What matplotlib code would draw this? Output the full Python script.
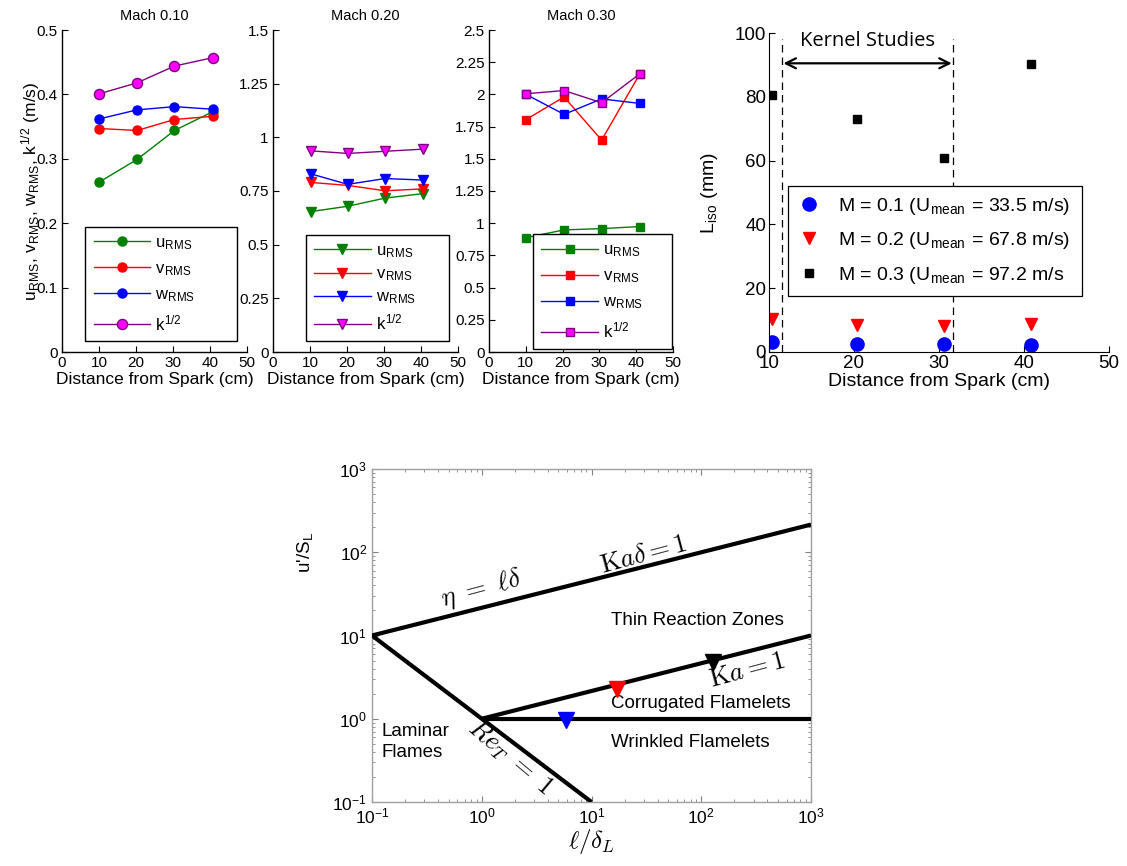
import matplotlib
matplotlib.use('Agg')
import matplotlib.pyplot as plt
from matplotlib.ticker import MultipleLocator

plt.rcParams['font.family'] = ['Liberation Sans', 'DejaVu Sans']
plt.rcParams['mathtext.fontset'] = 'cm'

# ---------------- data ----------------
mach_titles = ['Mach 0.10', 'Mach 0.20', 'Mach 0.30']
series_labels = [r'u$_{\mathregular{RMS}}$', r'v$_{\mathregular{RMS}}$',
                 r'w$_{\mathregular{RMS}}$', r'k$^{\mathregular{1/2}}$']

distance_m1 = [10.1, 20.3, 30.4, 40.7]
m1_u = [0.264, 0.299, 0.344, 0.373]
m1_v = [0.347, 0.344, 0.361, 0.366]
m1_w = [0.362, 0.376, 0.381, 0.377]
m1_k = [0.401, 0.418, 0.444, 0.457]

distance_m2 = [10.2, 20.2, 30.3, 40.6]
m2_u = [0.654, 0.679, 0.717, 0.738]
m2_v = [0.790, 0.776, 0.751, 0.760]
m2_w = [0.830, 0.781, 0.808, 0.801]
m2_k = [0.937, 0.925, 0.935, 0.945]

distance_m3 = [10.05, 20.4, 30.6, 41.0]
m3_u = [0.888, 0.948, 0.958, 0.974]
m3_v = [1.805, 1.980, 1.645, 2.160]
m3_w = [2.000, 1.845, 1.965, 1.930]
m3_k = [2.005, 2.030, 1.935, 2.160]

y_max = [0.5, 1.5, 2.5]
y_step = [0.1, 0.25, 0.25]

# integral length scale
liso_x = [10.3, 20.4, 30.6, 40.8]
liso_m01 = [3.2, 2.6, 2.5, 2.3]
liso_m02 = [10.2, 8.6, 8.3, 8.8]
liso_m03 = [80.6, 73.0, 60.8, 90.4]
liso_labels = [r'M = 0.1 (U$_{\mathregular{mean}}$ = 33.5 m/s)',
               r'M = 0.2 (U$_{\mathregular{mean}}$ = 67.8 m/s)',
               r'M = 0.3 (U$_{\mathregular{mean}}$ = 97.2 m/s']
kernel_bounds = [11.5, 31.7]
kernel_arrow_y = 90.5

# Borghi diagram regime boundaries (endpoints)
kad_x, kad_y = [0.1, 1000], [10, 215]
ka_x, ka_y = [1, 1000], [1, 10]
ret_x, ret_y = [0.1, 10], [10, 0.1]
unity_x, unity_y = [1, 1000], [1, 1]
case_x = [5.8, 17.0, 129.0]
case_y = [0.97, 2.26, 4.83]
case_colors = ['#0000ff', '#ff0000', '#000000']

# ---------------- figure ----------------
W, H = 1127, 866
fig = plt.figure(figsize=(W / 100, H / 100), dpi=100)


def rect(x0, x1, y0, y1):
    return [x0 / W, 1 - y1 / H, (x1 - x0) / W, (y1 - y0) / H]


green = '#008000'
red = '#ff0000'
blue = '#0000ff'
purple = '#800080'
magenta = '#ff00ff'

panel_rects = [rect(62, 247, 30, 352), rect(273, 458, 30, 352), rect(489, 673, 30, 352)]
panel_data = [
    (distance_m1, [m1_u, m1_v, m1_w, m1_k]),
    (distance_m2, [m2_u, m2_v, m2_w, m2_k]),
    (distance_m3, [m3_u, m3_v, m3_w, m3_k]),
]
markers = ['o', 'v', 's']
msizes = [6.5, 7.0, 5.5]
legend_box = [(0.126, 0.033, 0.822), (0.177, 0.034, 0.774), (0.239, 0.010, 0.757)]
legend_spacing = [0.55, 0.38, 0.55]

for i in range(3):
    ax = fig.add_axes(panel_rects[i])
    xs, ys = panel_data[i]
    cols = [green, red, blue, purple]
    faces = [green, red, blue, magenta]
    for j in range(4):
        ms = msizes[i] * (1.12 if j == 3 else 1.0)
        ax.plot(xs, ys[j], color=cols[j], marker=markers[i], markersize=ms,
                markerfacecolor=faces[j], markeredgecolor=cols[j],
                lw=1.0, label=series_labels[j])
    ax.set_xlim(0, 50)
    ax.set_ylim(0, y_max[i])
    ax.xaxis.set_major_locator(MultipleLocator(10))
    ax.yaxis.set_major_locator(MultipleLocator(y_step[i]))
    ax.yaxis.set_major_formatter(plt.FuncFormatter(lambda v, p: ('%g' % round(v, 3))))
    for s in ['top', 'right']:
        ax.spines[s].set_visible(False)
    for s in ['left', 'bottom']:
        ax.spines[s].set_linewidth(1.0)
    ax.tick_params(direction='in', length=4, width=0.8, labelsize=11, pad=3)
    ax.set_title(mach_titles[i], fontsize=10.5, pad=7)
    ax.set_xlabel('Distance from Spark (cm)', fontsize=12.5, labelpad=1)
    bx, by, bw = legend_box[i]
    leg = ax.legend(loc='lower left', bbox_to_anchor=(bx, by, bw, 0.1), mode='expand',
                    fontsize=12, handlelength=3.4, handletextpad=0.3,
                    labelspacing=legend_spacing[i], borderpad=0.5,
                    fancybox=False, framealpha=1, edgecolor='black',
                    borderaxespad=0)
    leg.get_frame().set_linewidth(1.0)
    if i == 0:
        ax.set_ylabel(r'u$_{\mathregular{RMS}}$, v$_{\mathregular{RMS}}$, '
                      r'w$_{\mathregular{RMS}}$, k$^{\mathregular{1/2}}$ (m/s)',
                      fontsize=12.5)
        ax.yaxis.set_label_coords(-0.105, 0.5)

# ---------------- Liso panel ----------------
ax4 = fig.add_axes(rect(769, 1109, 33, 352))
ax4.plot(liso_x, liso_m01, 'o', color=blue, markersize=9.5, label=liso_labels[0])
ax4.plot(liso_x, liso_m02, 'v', color=red, markersize=9, label=liso_labels[1])
ax4.plot(liso_x, liso_m03, 's', color='black', markersize=6, label=liso_labels[2])
for xb in kernel_bounds:
    ax4.plot([xb, xb], [0, 98], color='black', lw=0.9, dashes=(6, 4))
ax4.annotate('', xy=(kernel_bounds[0] + 0.2, kernel_arrow_y),
             xytext=(kernel_bounds[1] - 0.2, kernel_arrow_y),
             arrowprops=dict(arrowstyle='<->', color='black', lw=1.6,
                             mutation_scale=18, shrinkA=0, shrinkB=0))
ax4.text(sum(kernel_bounds) / 2, 97.5, 'Kernel Studies', family='Open Sans',
         fontsize=14.5, ha='center', va='center')
ax4.set_xlim(10, 50)
ax4.set_ylim(0, 100)
ax4.xaxis.set_major_locator(MultipleLocator(10))
ax4.yaxis.set_major_locator(MultipleLocator(20))
for s in ['top', 'right']:
    ax4.spines[s].set_visible(False)
for s in ['left', 'bottom']:
    ax4.spines[s].set_linewidth(0.8)
ax4.tick_params(direction='in', length=4, width=0.8, labelsize=13.5, pad=2)
ax4.set_xlabel('Distance from Spark (cm)', fontsize=14, labelpad=1)
ax4.set_ylabel(r'L$_{\mathregular{iso}}$ (mm)', fontsize=14)
ax4.yaxis.set_label_coords(-0.145, 0.5)
leg4 = ax4.legend(loc='lower left', bbox_to_anchor=(0.055, 0.177, 0.867, 0.1),
                  mode='expand', fontsize=14,
                  handlelength=1.2, labelspacing=0.7, borderpad=0.5,
                  fancybox=False, framealpha=1, edgecolor='black', borderaxespad=0,
                  handletextpad=0.9)
leg4.get_frame().set_linewidth(0.9)

# ---------------- Borghi diagram ----------------
ax5 = fig.add_axes(rect(372, 811, 469, 802))
ax5.set_xscale('log')
ax5.set_yscale('log')
for xs, ys in [(kad_x, kad_y), (ka_x, ka_y), (ret_x, ret_y), (unity_x, unity_y)]:
    ax5.plot(xs, ys, color='black', lw=3.0, solid_capstyle='butt', zorder=3)
for xc, yc, cc in zip(case_x, case_y, case_colors):
    ax5.plot([xc], [yc], 'v', color=cc, markersize=12, zorder=4)
ax5.set_xlim(0.1, 1000)
ax5.set_ylim(0.1, 1000)
for s in ax5.spines.values():
    s.set_color('#a0a0a0')
    s.set_linewidth(1.0)
ax5.tick_params(which='both', direction='in', top=True, right=True,
                color='#808080', labelsize=12.5)
ax5.tick_params(which='major', length=4)
ax5.tick_params(which='minor', length=2.5)
ax5.set_xlabel(r'$\ell/\delta_L$', fontsize=18, labelpad=0)
ax5.set_ylabel(r"u'/S$_{\mathregular{L}}$", fontsize=13.5, labelpad=12, y=0.75)

ax5.text(1.0, 36, r'$\eta\ =\ \ell\delta$', fontsize=19, rotation=15,
         ha='center', va='center')
ax5.text(29.6, 93, r'$\mathrm{K}a\delta = 1$', fontsize=19, rotation=15,
         ha='center', va='center')
ax5.text(261, 3.8, r'$\mathrm{K}a = 1$', fontsize=19, rotation=15,
         ha='center', va='center')
ax5.text(1.82, 0.34, r'$Re_T\ =\ 1$', fontsize=19, rotation=-40,
         ha='center', va='center')
ax5.text(14.9, 15.2, 'Thin Reaction Zones', fontsize=13.5, ha='left', va='center')
ax5.text(14.9, 1.51, 'Corrugated Flamelets', fontsize=13.5, ha='left', va='center')
ax5.text(14.9, 0.52, 'Wrinkled Flamelets', fontsize=13.5, ha='left', va='center')
ax5.text(0.1225, 0.52, 'Laminar\nFlames', fontsize=13.5, ha='left', va='center',
         linespacing=1.3)

fig.savefig('out.png', dpi=100)
